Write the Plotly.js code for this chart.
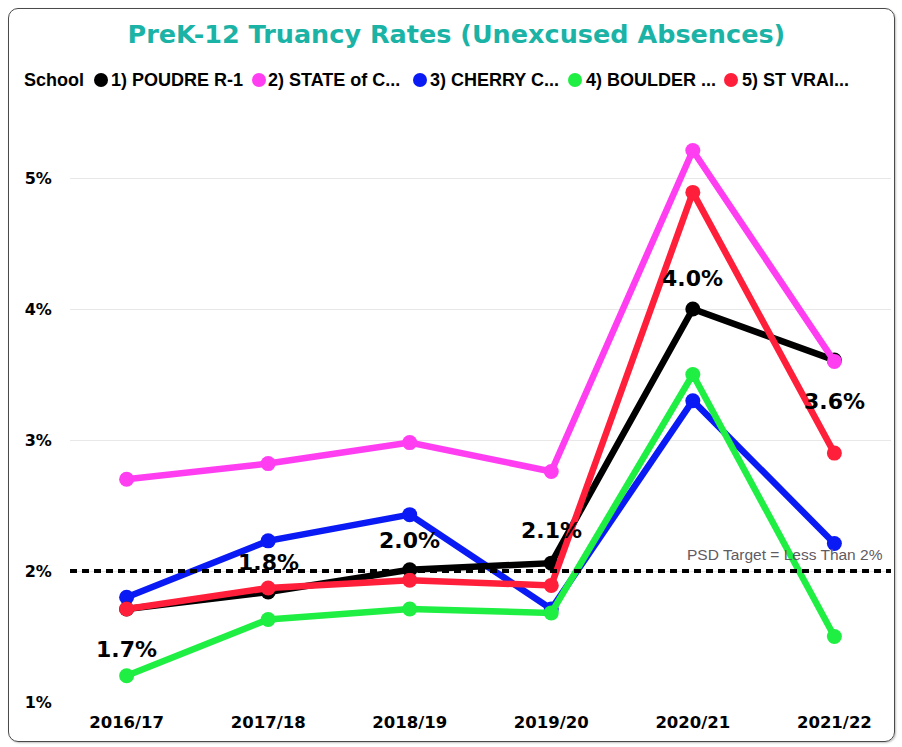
<!DOCTYPE html>
<html>
<head>
<meta charset="utf-8">
<script src="https://cdn.plot.ly/plotly-3.0.1.min.js"></script>
<style>
  html, body { margin: 0; padding: 0; background: #fff; }
  #wrap { position: relative; width: 902px; height: 747px; }
  #chart { width: 902px; height: 747px; }
  #frame { position: absolute; left: 8px; top: 8px; width: 885px; height: 732px;
           border: 1.5px solid #4a4a4a; border-radius: 10px; pointer-events: none;
           box-shadow: 1px 1px 2px rgba(0,0,0,0.25); }
</style>
</head>
<body>
<div id="wrap">
  <div id="chart"></div>
  <div id="frame"></div>
</div>
<script>
// ---- data ----
const years = ['2016/17', '2017/18', '2018/19', '2019/20', '2020/21', '2021/22'];
const poudre  = [1.71, 1.84, 2.01, 2.06, 4.00, 3.61];
const stateCO = [2.70, 2.82, 2.98, 2.76, 5.21, 3.60];
const cherry  = [1.80, 2.23, 2.43, 1.71, 3.30, 2.21];
const boulder = [1.20, 1.63, 1.71, 1.68, 3.50, 1.50];
const stvrain = [1.71, 1.87, 1.93, 1.89, 4.89, 2.90];
const seriesNames = ['1) POUDRE R-1', '2) STATE of C...', '3) CHERRY C...', '4) BOULDER ...', '5) ST VRAI...'];
const yTickVals = [1, 2, 3, 4, 5];
const yTickText = ['1%', '2%', '3%', '4%', '5%'];
const targetValue = 2;
const targetText = 'PSD Target = Less Than 2%';
const legendTitle = 'School';
const chartTitle = 'PreK-12 Truancy Rates (Unexcused Absences)';

// ---- style ----
const colors = ['#000000', '#FF3EF2', '#0A1AF5', '#1EEF42', '#FF1F3A'];
const seriesValues = [poudre, stateCO, cherry, boulder, stvrain];
const drawOrder = [2, 3, 0, 4, 1];

const W = 902, H = 747;
const M = { l: 70, r: 11, t: 110, b: 45 };
const plotW = W - M.l - M.r, plotH = H - M.t - M.b;
const px2x = px => (px - M.l) / plotW;
const py2y = py => (H - M.b - py) / plotH;
const yMax = 1 + plotH / 131;

// target line as a trace on a hidden overlaying x axis so it spans the plot width
const traces = [{
  type: 'scatter', mode: 'lines',
  x: [0, 1], y: [targetValue, targetValue], xaxis: 'x2',
  line: { color: '#000', width: 4, dash: '7px,5px' },
  showlegend: false, hoverinfo: 'skip'
}];
drawOrder.forEach(i => traces.push({
  type: 'scatter',
  mode: 'lines+markers',
  x: years,
  y: seriesValues[i],
  name: seriesNames[i],
  line: { color: colors[i], width: 6.5 },
  marker: { color: colors[i], size: 15 },
  showlegend: false,
  hoverinfo: 'skip'
}));

const boldDV = { family: 'DejaVu Sans', weight: 'bold', color: '#000' };

// data labels for series 1
const labelShift = [-41, 29, 29, 33, 31, -41];
const annotations = poudre.map((v, k) => ({
  xref: 'x', yref: 'y', x: years[k], y: v,
  text: v.toFixed(1) + '%',
  showarrow: false, yshift: labelShift[k],
  font: Object.assign({}, boldDV, { size: 22 })
}));

// target label
annotations.push({
  xref: 'paper', yref: 'y', x: px2x(885), y: targetValue,
  xanchor: 'right', yanchor: 'middle', yshift: 17,
  text: targetText, showarrow: false,
  font: { family: 'Liberation Sans', size: 15.5, color: '#5f5b63' }
});

// manual legend
const legendY = 80;
const textStarts = [110, 267, 429, 585, 741];
const circleCenters = [101, 259, 420, 575, 731];
annotations.push({
  xref: 'paper', yref: 'paper', x: px2x(22), y: py2y(legendY),
  xanchor: 'left', yanchor: 'middle', text: legendTitle, showarrow: false,
  font: { family: 'Liberation Sans', weight: 'bold', size: 18, color: '#000' }
});
const shapes = [];
seriesNames.forEach((nm, i) => {
  annotations.push({
    xref: 'paper', yref: 'paper', x: px2x(textStarts[i] - 1), y: py2y(legendY),
    xanchor: 'left', yanchor: 'middle', text: nm, showarrow: false,
    font: { family: 'Liberation Sans', weight: 'bold', size: 18, color: '#000' }
  });
  shapes.push({
    type: 'circle', xref: 'paper', yref: 'paper',
    xsizemode: 'pixel', ysizemode: 'pixel',
    xanchor: px2x(circleCenters[i]), yanchor: py2y(legendY),
    x0: -7, x1: 7, y0: -7, y1: 7,
    fillcolor: colors[i], line: { width: 0 }
  });
});

const layout = {
  width: W, height: H,
  margin: M,
  paper_bgcolor: '#ffffff', plot_bgcolor: '#ffffff',
  title: {
    text: chartTitle,
    x: 0.506, xref: 'container', xanchor: 'center',
    y: 1 - 34 / H, yref: 'container', yanchor: 'middle',
    font: { family: 'DejaVu Sans', weight: 'bold', size: 25.5, color: '#1BB3A5' }
  },
  showlegend: false,
  xaxis: {
    type: 'category', range: [-0.4, 5.4],
    showgrid: false, zeroline: false, showline: false,
    ticks: 'outside', ticklen: 5, tickcolor: 'rgba(0,0,0,0)',
    tickfont: Object.assign({}, boldDV, { size: 16.5 }),
    fixedrange: true
  },
  xaxis2: {
    overlaying: 'x', range: [0, 1], visible: false, fixedrange: true
  },
  yaxis: {
    range: [1, yMax],
    tickvals: yTickVals, ticktext: yTickText,
    showgrid: true, gridcolor: '#e8e8e8', gridwidth: 1,
    zeroline: false, showline: false,
    ticks: 'outside', ticklen: 14, tickcolor: 'rgba(0,0,0,0)',
    tickfont: Object.assign({}, boldDV, { size: 16 }),
    fixedrange: true
  },
  annotations: annotations,
  shapes: shapes,
  hovermode: false
};

Plotly.newPlot('chart', traces, layout, { displayModeBar: false, staticPlot: true });
</script>
</body>
</html>
